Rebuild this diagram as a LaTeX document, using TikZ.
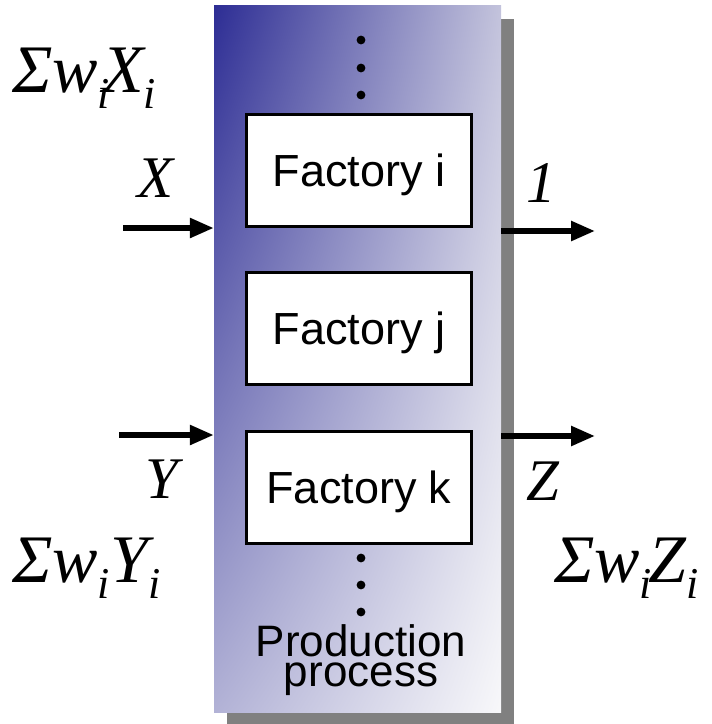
\documentclass[tikz,border=0pt]{standalone}
\usepackage{fontspec}
\setmainfont{Liberation Sans}
\newfontfamily\tnr{Liberation Serif}
\usetikzlibrary{arrows.meta,shadows,shadings}
\newcommand\sbi{\raisebox{-16pt}{\fontsize{44}{44}\selectfont i}}
\definecolor{cUL}{RGB}{45,45,148}
\definecolor{cUR}{RGB}{195,195,220}
\definecolor{cLL}{RGB}{178,178,214}
\definecolor{cLR}{RGB}{248,248,250}
\definecolor{shadowgray}{RGB}{128,128,128}
\tikzset{
  procbox/.style={shade, upper left=cUL, upper right=cUR, lower left=cLL, lower right=cLR,
    minimum width=287pt, minimum height=707pt, inner sep=0pt, draw=none,
    drop shadow={shadow xshift=13pt, shadow yshift=-14pt, fill=shadowgray, opacity=1}},
  factbox/.style={draw=black, fill=white, line width=3pt, minimum width=225pt,
    minimum height=112pt, inner sep=0pt, text depth=0pt,
    font=\fontsize{45}{45}\selectfont},
  dotnode/.style={circle, fill=black, inner sep=0pt, minimum size=8.8pt},
  bigmath/.style={anchor=base west, inner sep=0pt, font=\tnr\itshape\fontsize{68}{68}\selectfont},
  letter/.style={anchor=base west, inner sep=0pt, font=\tnr\itshape\fontsize{59}{59}\selectfont},
  flow/.style={line width=5.5pt, -{Triangle[length=24pt,width=19pt]}}
}
\begin{document}
\begin{tikzpicture}[x=1pt,y=-1pt]
\useasboundingbox (0,0) rectangle (712,724);
\node[procbox] (proc) at (357.5,358.5) {};
% dots
\node[dotnode] (d1) at (361,40) {};
\node[dotnode] (d2) at (361,68) {};
\node[dotnode] (d3) at (361,95) {};
\node[dotnode] (d4) at (361,558) {};
\node[dotnode] (d5) at (361,585) {};
\node[dotnode] (d6) at (361,612) {};
% factories
\node[factbox] (fi) at (359,170.5) {Factory i};
\node[factbox] (fj) at (359,328.5) {Factory j};
\node[factbox] (fk) at (359,487) {Factory k};
% production label
\node[align=center, inner sep=0pt, font=\fontsize{44}{30}\selectfont] (prod) at (361,660.5) {Production\\process};
% labels
\node[bigmath] (sx) at (12,92) {Σw\sbi\kern-8pt X\sbi};
\node[letter] (lx) at (137,197) {X};
\node[letter] (l1) at (526,202) {1};
\node[letter] (ly) at (145,498) {Y};
\node[letter] (lz) at (526,500) {Z};
\node[bigmath] (sy) at (12,582) {Σw\sbi Y\sbi};
\node[bigmath] (sz) at (554,582) {Σw\sbi\kern-4pt Z\sbi};
% arrows
\coordinate (xin) at (123,228);
\coordinate (yin) at (119,435);
\coordinate (oout) at (595,231);
\coordinate (zout) at (595,436);
\draw[flow] (xin) -- (xin -| proc.west);
\draw[flow] (yin) -- (yin -| proc.west);
\draw[flow] (proc.east |- oout) -- (oout);
\draw[flow] (proc.east |- zout) -- (zout);
\end{tikzpicture}
\end{document}
